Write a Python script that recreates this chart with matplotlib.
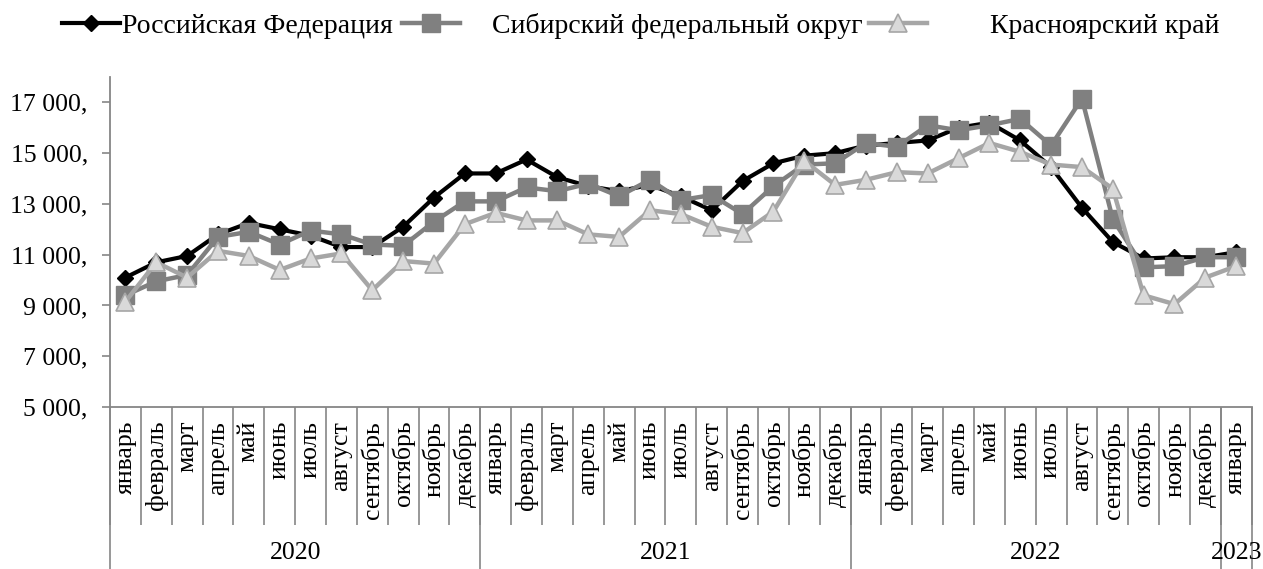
import matplotlib.pyplot as plt
import numpy as np

plt.rcParams['font.family'] = ['Liberation Serif', 'DejaVu Serif']

month_names = ['январь', 'февраль', 'март', 'апрель', 'май', 'июнь', 'июль',
               'август', 'сентябрь', 'октябрь', 'ноябрь', 'декабрь']
months = month_names * 3 + ['январь']
years = ['2020', '2021', '2022', '2023']
year_len = [12, 12, 12, 1]

rf = [10100, 10700, 10950, 11800, 12250, 12000, 11750, 11300, 11300, 12100, 13250, 14200,
      14200, 14750, 14050, 13700, 13500, 13750, 13300, 12750, 13900, 14600, 14900, 15000,
      15300, 15400, 15500, 16000, 16200, 15500, 14450, 12850, 11500, 10850, 10900, 10900, 11100]
sfd = [9400, 9950, 10200, 11700, 11900, 11400, 11950, 11800, 11400, 11350, 12300, 13100,
       13100, 13650, 13500, 13800, 13300, 13950, 13150, 13350, 12600, 13700, 14550, 14600,
       15400, 15250, 16100, 15900, 16100, 16350, 15300, 17150, 12400, 10500, 10550, 10900, 10900]
kk = [9150, 10700, 10100, 11150, 10950, 10400, 10850, 11050, 9600, 10750, 10650, 12200,
      12650, 12350, 12350, 11800, 11700, 12750, 12600, 12100, 11850, 12700, 14700, 13750,
      13950, 14250, 14200, 14800, 15400, 15050, 14550, 14450, 13600, 9400, 9050, 10100, 10550]

yticks = [5000, 7000, 9000, 11000, 13000, 15000, 17000]

axis_gray = '#868686'
fs = 18.5
lfs = 20

fig = plt.figure(figsize=(12.63, 5.69), dpi=100)
ax = fig.add_axes([0.0871, 0.2847, 0.9039, 0.58])

x = np.arange(len(months))
l1, = ax.plot(x, rf, color='black', lw=3, marker='D', ms=8.5,
              mfc='black', mec='black', clip_on=False)
l2, = ax.plot(x, sfd, color='#808080', lw=3.2, marker='s', ms=12.5,
              mfc='#808080', mec='#808080', clip_on=False)
l3, = ax.plot(x, kk, color='#a6a6a6', lw=3.2, marker='^', ms=13,
              mfc='#d9d9d9', mec='#a6a6a6', mew=1.2, clip_on=False)

ax.set_xlim(-0.5, len(months) - 0.5)
ax.set_ylim(5000, 18000)
ax.set_yticks(yticks)
ax.set_yticklabels([f'{v:,}'.replace(',', ' ') + ',' for v in yticks], fontsize=fs)
ax.tick_params(axis='y', length=6, width=1.2, color=axis_gray, pad=10)

for s in ['top', 'right']:
    ax.spines[s].set_visible(False)
for s in ['left', 'bottom']:
    ax.spines[s].set_color(axis_gray)
    ax.spines[s].set_linewidth(1.3)

# month dividers and labels
ax.set_xticks(np.arange(-0.5, len(months), 1.0))
ax.set_xticklabels([])
ax.tick_params(axis='x', which='major', length=85, width=1.2, color=axis_gray)
ax.set_xticks(x, minor=True)
ax.set_xticklabels(months, minor=True, rotation=90, fontsize=fs)
ax.tick_params(axis='x', which='minor', length=0, pad=10)

# year dividers and labels
bounds = np.concatenate([[0], np.cumsum(year_len)]) - 0.5
centers = (bounds[:-1] + bounds[1:]) / 2
sec = ax.secondary_xaxis('bottom')
sec.spines['bottom'].set_visible(False)
sec.set_xticks(bounds)
sec.set_xticklabels([])
sec.tick_params(axis='x', which='major', length=120, width=1.2, color=axis_gray)
sec.set_xticks(centers, minor=True)
sec.set_xticklabels(years, minor=True, fontsize=fs)
sec.tick_params(axis='x', which='minor', length=0, pad=97)

# legend
fig.legend([l1], ['Российская Федерация'], loc='center left',
           bbox_to_anchor=(62 / 1263, 1 - 26 / 569), frameon=False, fontsize=lfs,
           handlelength=2.1, handletextpad=0.05, borderpad=0, borderaxespad=0)
fig.legend([l2], ['Сибирский федеральный округ'], loc='center left',
           bbox_to_anchor=(402 / 1263, 1 - 26 / 569), frameon=False, fontsize=lfs,
           handlelength=2.1, handletextpad=1.15, borderpad=0, borderaxespad=0)
fig.legend([l3], ['Красноярский край'], loc='center left',
           bbox_to_anchor=(869 / 1263, 1 - 26 / 569), frameon=False, fontsize=lfs,
           handlelength=2.1, handletextpad=2.25, borderpad=0, borderaxespad=0)

fig.savefig('out.png', dpi=100)
